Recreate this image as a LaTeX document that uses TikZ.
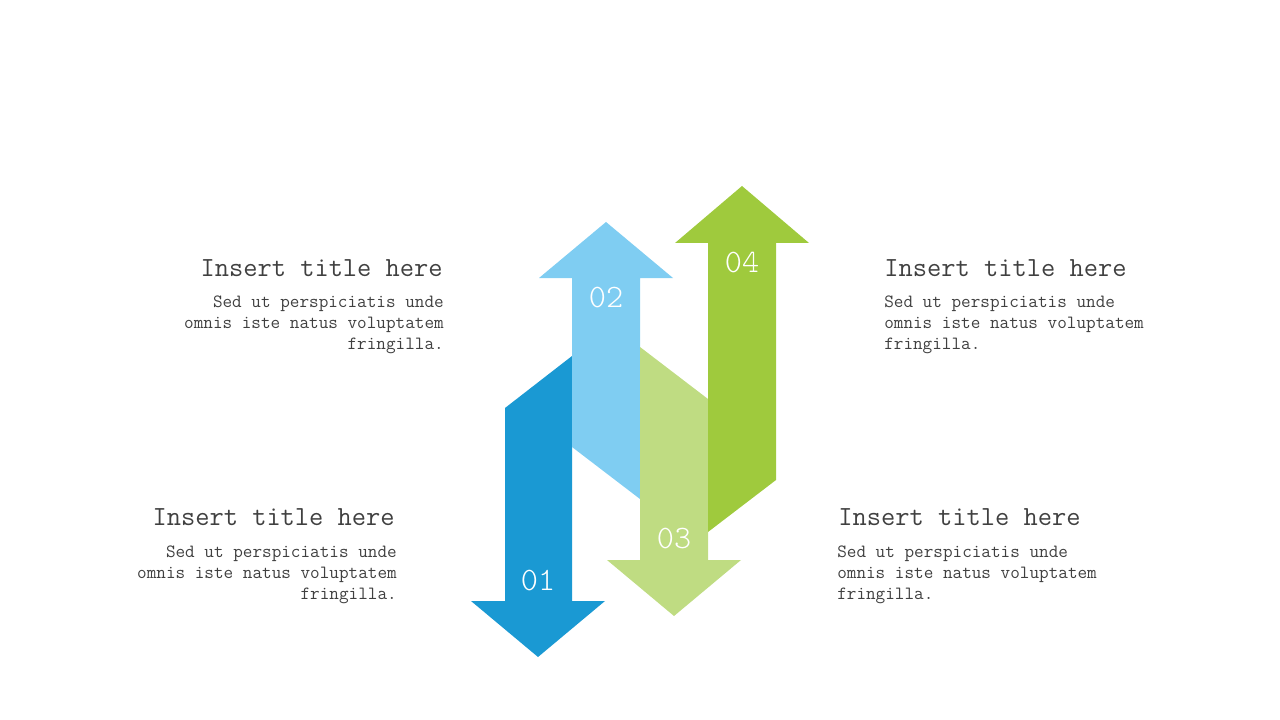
\documentclass[tikz,border=0pt]{standalone}
\usepackage{fontspec}
\newfontfamily\numfont{lmmonolt10-regular.otf}
\definecolor{darkblue}{HTML}{1A99D3}
\definecolor{lightblue}{HTML}{7FCDF2}
\definecolor{lightgreen}{HTML}{BFDC82}
\definecolor{darkgreen}{HTML}{9FCA3D}
\definecolor{textgray}{HTML}{404040}

\begin{document}
\begin{tikzpicture}[x=0.75pt,y=-0.75pt,
    title/.style={font=\ttfamily\fontsize{20.75}{24}\selectfont,text=textgray,inner sep=0pt},
    body/.style={font=\ttfamily\fontsize{14}{15.75}\selectfont,text=textgray,inner sep=0pt},
    num/.style={font=\numfont\fontsize{24.5}{28}\selectfont,text=white,inner sep=0pt}]
                \useasboundingbox (0,0) rectangle (1280,720);

                % Arrow 01 (down)
                \fill[darkblue] (505,408) -- (572,356) -- (572,601) -- (605,601) -- (538,657)
                    -- (471,601) -- (505,601) -- cycle;
                \node[num] (num1) at (538,581) {01};

                % Arrow 02 (up)
                \fill[lightblue] (572,447) -- (640,499) -- (640,278) -- (673,278) -- (606,222)
                    -- (539,278) -- (572,278) -- cycle;
                \node[num] (num2) at (606,298) {02};

                % Arrow 03 (down)
                \fill[lightgreen] (640,347) -- (708,399) -- (708,560) -- (741,560) -- (674,616)
                    -- (607,560) -- (640,560) -- cycle;
                \node[num] (num3) at (674,539) {03};

                % Arrow 04 (up)
                \fill[darkgreen] (708,532) -- (776,480) -- (776,243) -- (809,243) -- (742,186)
                    -- (675,243) -- (708,243) -- cycle;
                \node[num] (num4) at (742,263) {04};

                % Left texts (base = last line)
                \node[title,anchor=base east] (title2) at (443,276) {Insert title here};
                \node[body,align=right,anchor=base east] (text2) at (444,349)
                    {Sed ut perspiciatis unde\\omnis iste natus voluptatem\\fringilla.};
                \node[title,anchor=base east] (title1) at (395,525) {Insert title here};
                \node[body,align=right,anchor=base east] (text1) at (397,599)
                    {Sed ut perspiciatis unde\\omnis iste natus voluptatem\\fringilla.};

                % Right texts
                \node[title,anchor=base west] (title4) at (884,276) {Insert title here};
                \node[body,align=left,anchor=base west] (text4) at (884,349)
                    {Sed ut perspiciatis unde\\omnis iste natus voluptatem\\fringilla.};
                \node[title,anchor=base west] (title3) at (838,525) {Insert title here};
                \node[body,align=left,anchor=base west] (text3) at (837,599)
                    {Sed ut perspiciatis unde\\omnis iste natus voluptatem\\fringilla.};
            \end{tikzpicture}
\end{document}
